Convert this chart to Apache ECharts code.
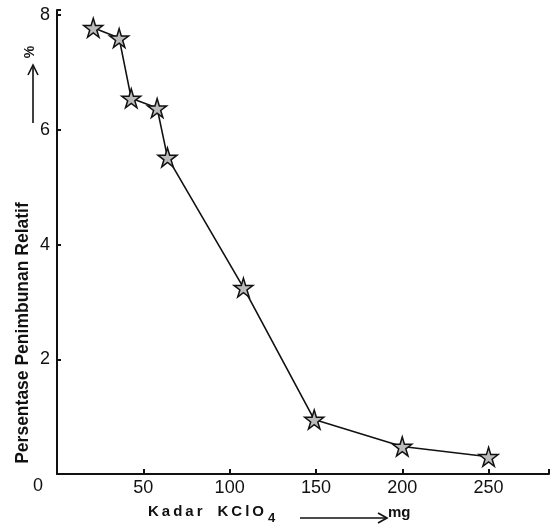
<!DOCTYPE html>
<html>
<head>
<meta charset="utf-8">
<script src="https://cdn.jsdelivr.net/npm/echarts@6/dist/echarts.min.js"></script>
<style>
html,body{margin:0;padding:0;background:#fff;}
#chart{width:552px;height:528px;}
</style>
</head>
<body>
<div id="chart"></div>
<script>
// kadar KClO4 (mg) vs persentase penimbunan relatif (%)
var kadar = [21, 36, 43, 58, 64, 108, 149, 200, 250];
var persen = [7.78, 7.6, 6.55, 6.38, 5.52, 3.25, 0.95, 0.48, 0.3];
var xTicks = [0, 50, 100, 150, 200, 250];
var yTicks = [2, 4, 6, 8];

var star = 'path://M50,0 L61,35 L98,35 L68,57 L79,91 L50,70 L21,91 L32,57 L2,35 L39,35 Z';
var sp = '\u2009';

var chart = echarts.init(document.getElementById('chart'));
var option = {
    backgroundColor: '#fff',
    animation: false,
    grid: { left: 57, right: 2, top: 10, bottom: 54 },
    xAxis: {
        type: 'value',
        min: 0,
        max: 285,
        interval: 50,
        axisLine: { lineStyle: { color: '#111', width: 2 } },
        axisTick: { show: true, inside: true, length: 5, lineStyle: { color: '#111', width: 2 } },
        splitLine: { show: false },
        axisLabel: {
            color: '#111',
            fontSize: 18,
            fontFamily: 'Liberation Sans',
            margin: 5,
            formatter: function (v) { return xTicks.indexOf(v) >= 0 && v !== 0 ? String(v) : ''; }
        }
    },
    yAxis: {
        type: 'value',
        min: 0,
        max: 8.09,
        interval: 2,
        axisLine: { lineStyle: { color: '#111', width: 2 } },
        axisTick: { show: true, inside: true, length: 4, lineStyle: { color: '#111', width: 2 } },
        splitLine: { show: false },
        axisLabel: {
            color: '#111',
            fontSize: 18,
            fontFamily: 'Liberation Sans',
            margin: 7,
            formatter: function (v) { return yTicks.indexOf(v) >= 0 ? String(v) : ''; }
        }
    },
    graphic: [
        { type: 'text', left: 33, top: 477, style: { text: '0', fontSize: 18, fontFamily: 'Liberation Sans', fill: '#111' } },
        {
            type: 'text', x: 23, y: 333, rotation: Math.PI / 2,
            style: {
                text: 'Persentase Penimbunan Relatif', fontSize: 17.5, fontWeight: 'bold',
                fontFamily: 'Liberation Sans', fill: '#111', align: 'center', verticalAlign: 'middle'
            }
        },
        { type: 'line', shape: { x1: 33, y1: 123, x2: 33, y2: 67 }, style: { stroke: '#111', lineWidth: 1.6 } },
        { type: 'polyline', shape: { points: [[28, 75], [33, 65], [38, 75]] }, style: { stroke: '#111', lineWidth: 1.6, fill: null } },
        {
            type: 'text', x: 30, y: 52, rotation: Math.PI / 2,
            style: { text: '%', fontSize: 14, fontWeight: 'bold', fontFamily: 'Liberation Sans', fill: '#111', align: 'center', verticalAlign: 'middle' }
        },
        {
            type: 'text', left: 148, top: 504,
            style: {
                text: ['K', 'a', 'd', 'a', 'r'].join(sp) + '\u2003' + ['K', 'C', 'l', 'O'].join(sp),
                fontSize: 15, fontWeight: 'bold', fontFamily: 'Liberation Sans', fill: '#111'
            }
        },
        { type: 'text', left: 268, top: 512, style: { text: '4', fontSize: 13, fontWeight: 'bold', fontFamily: 'Liberation Sans', fill: '#111' } },
        { type: 'line', shape: { x1: 300, y1: 518, x2: 386, y2: 518 }, style: { stroke: '#111', lineWidth: 1.6 } },
        { type: 'polyline', shape: { points: [[378, 513], [387, 518], [378, 523]] }, style: { stroke: '#111', lineWidth: 1.6, fill: null } },
        { type: 'text', left: 388, top: 505, style: { text: 'mg', fontSize: 15, fontWeight: 'bold', fontFamily: 'Liberation Sans', fill: '#111' } }
    ],
    series: [{
        type: 'line',
        data: kadar.map(function (k, i) { return [k, persen[i]]; }),
        symbol: star,
        symbolSize: 19,
        lineStyle: { color: '#111', width: 1.6 },
        itemStyle: { color: '#bbb', borderColor: '#111', borderWidth: 1.5 }
    }]
};
chart.setOption(option);
</script>
</body>
</html>
